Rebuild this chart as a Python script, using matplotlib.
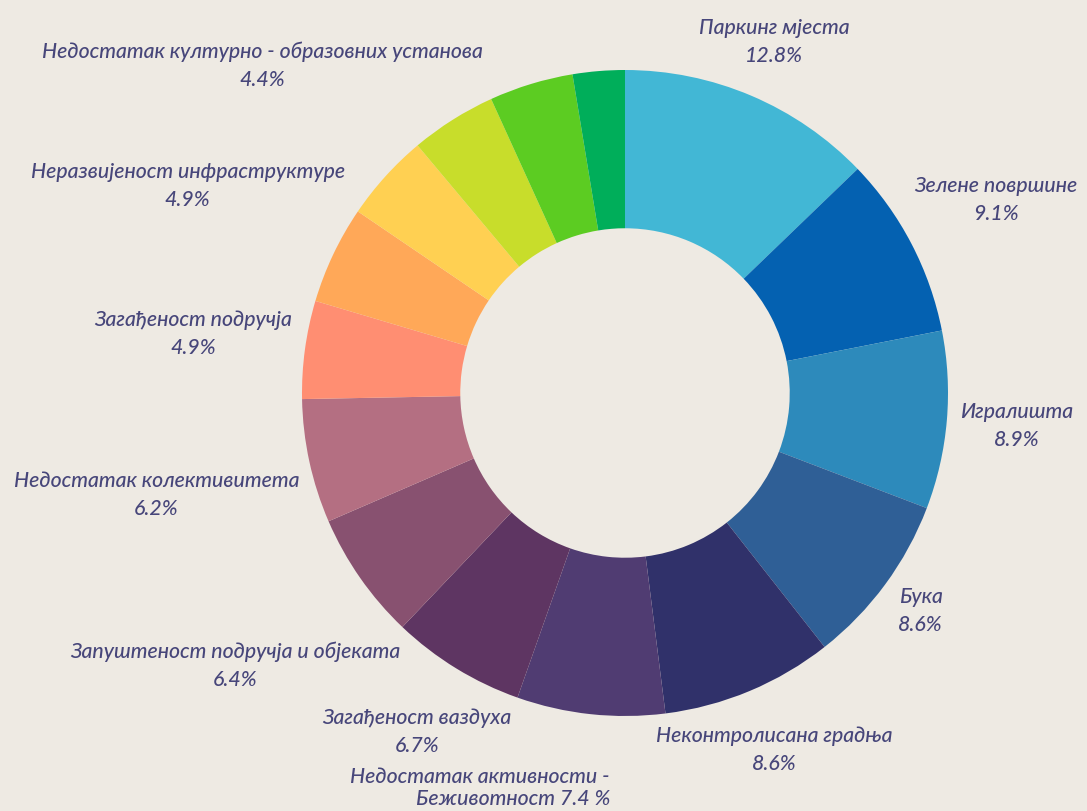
import numpy as np
import matplotlib
matplotlib.use("Agg")
import matplotlib.pyplot as plt

# Survey categories (clockwise from 12 o'clock) and their shares in percent
categories = [
    "Паркинг мјеста",
    "Зелене површине",
    "Игралишта",
    "Бука",
    "Неконтролисана градња",
    "Недостатак активности - Беживотност",
    "Загађеност ваздуха",
    "Запуштеност подручја и објеката",
    "Недостатак колективитета",
    "Загађеност подручја",
    "Неразвијеност инфраструктуре",
    "Недостатак културно - образовних установа",
    "",
    "",
    "",
]
shares = [12.8, 9.1, 8.9, 8.6, 8.6, 7.4, 6.7, 6.4, 6.2, 4.9, 4.9, 4.4, 4.3, 4.2, 2.6]
colors = [
    "#42b7d5", "#0461b1", "#2d8abb", "#2f5f96", "#30316a", "#503c72",
    "#5e3562", "#885170", "#b46f82", "#ff8e72", "#ffa858", "#ffd052",
    "#c8dd2b", "#5ccc22", "#00ae5a",
]

BG = "#eeeae3"
TEXT = "#47467a"
FONT = ["Lato", "DejaVu Sans"]

W, H = 1087, 811
fig = plt.figure(figsize=(W / 100, H / 100), dpi=100, facecolor=BG)
ax = fig.add_axes([0, 0, 1, 1])
ax.set_facecolor(BG)

# pixel scale: donut radius 323 px, centre at (625, 393) from top-left
R_PX = 323.0
cx_px, cy_px = 625.0, H - 393.0

wedges, _ = ax.pie(
    shares, colors=colors, startangle=90, counterclock=False, radius=1.0,
    wedgeprops=dict(width=0.49, linewidth=0), center=(0, 0),
)
ax.set_xlim(-cx_px / R_PX, (W - cx_px) / R_PX)
ax.set_ylim(-cy_px / R_PX, (H - cy_px) / R_PX)
ax.set_aspect("auto")
ax.axis("off")

fig.canvas.draw()
renderer = fig.canvas.get_renderer()

# label box is pushed out along the slice bisector until its nearest
# corner sits just outside the ring
GAP = 1.037
# crowded label: (extra clockwise angle in deg, gap, line spacing)
special = {5: (14.0, 1.16, 1.1)}

for i, (name, val, w) in enumerate(zip(categories, shares, wedges)):
    if not name:
        continue
    gap, ls, dang = GAP, 1.5, 0.0
    if i in special:
        dang, gap, ls = special[i]
    if i == 5:
        txt = "Недостатак активности -\nБеживотност {:.1f} %".format(val)
        malign = "right"
    else:
        txt = "{}\n{:.1f}%".format(name, val)
        malign = "center"
    t = ax.text(0, 0, txt, ha="center", va="center", multialignment=malign,
                fontsize=15.3, style="italic", weight="medium", family=FONT,
                color=TEXT, linespacing=ls)
    bb = t.get_window_extent(renderer=renderer)
    hw = bb.width / 2 / R_PX
    hh = bb.height / 2 / R_PX
    mid = np.deg2rad((w.theta1 + w.theta2) / 2 - dang)
    ux, uy = np.cos(mid), np.sin(mid)
    lo, hi = 0.0, 5.0
    for _ in range(60):
        s = (lo + hi) / 2
        px, py = s * ux, s * uy
        dx = max(abs(px) - hw, 0.0)
        dy = max(abs(py) - hh, 0.0)
        if np.hypot(dx, dy) < gap:
            lo = s
        else:
            hi = s
    t.set_position((lo * ux, lo * uy))

fig.savefig("out.png", dpi=100, facecolor=BG)
